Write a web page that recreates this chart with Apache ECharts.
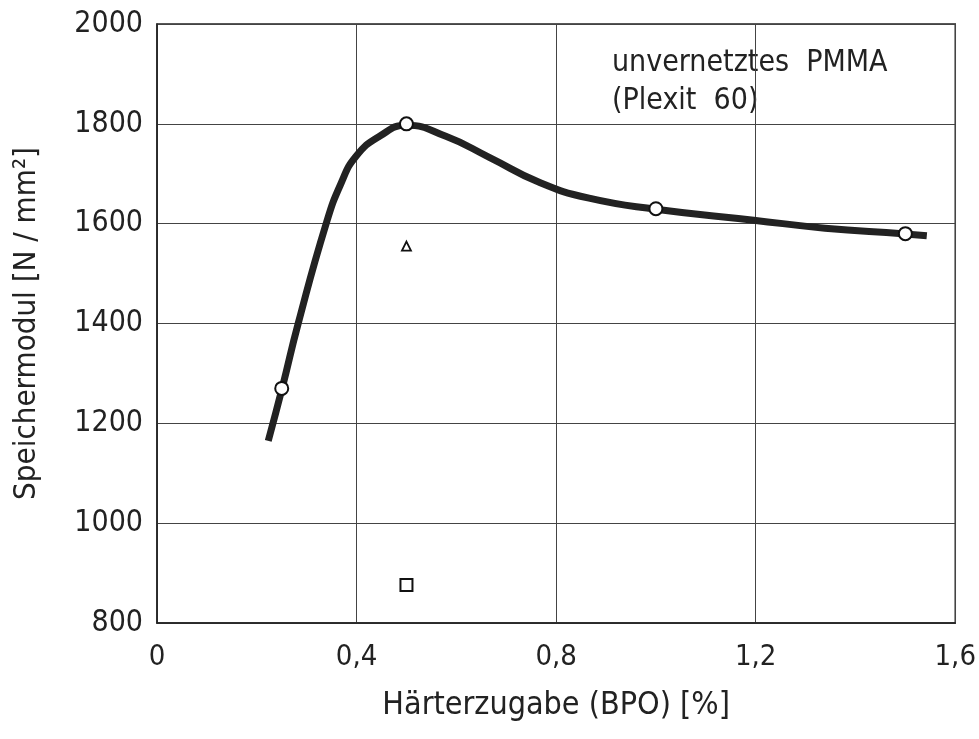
<!DOCTYPE html>
<html lang="de">
<head>
  <meta charset="UTF-8">
  <title>Speichermodul</title>
  <style>
    html, body { margin: 0; height: 100%; width: 100%; background: #fff; }
  </style>
</head>
<body>
  <div id="chart" style="width:979px;height:739px"></div>
  <script src="https://cdn.jsdelivr.net/npm/echarts@6/dist/echarts.min.js"></script>
  <script>
    const FONT = "'DejaVu Sans Condensed', 'DejaVu Sans', sans-serif"

    const xTicks = [0, 0.4, 0.8, 1.2, 1.6]
    const yTicks = [800, 1000, 1200, 1400, 1600, 1800, 2000]

    // measured points (unvernetztes PMMA)
    const circleX = [0.25, 0.5, 1.0, 1.5]
    const circleY = [1270, 1800, 1630, 1580]
    // other markers at 0.5 %
    const triangleXY = [0.5, 1555]
    const squareXY = [0.5, 876]

    // fitted curve
    const curveX = [0.223, 0.251, 0.283, 0.339, 0.369, 0.399, 0.446, 0.5, 0.579, 0.666,
      0.766, 0.866, 1.0, 1.196, 1.339, 1.494, 1.543]
    const curveY = [1165, 1271, 1400, 1600, 1681, 1735, 1775, 1797, 1775, 1733,
      1683, 1651, 1629, 1607, 1591, 1580, 1576]

    const pair = (xs, ys) => xs.map((x, i) => [x, ys[i]])

    const option = {
      animation: false,
      grid: {
        left: 157, right: 22, top: 24, bottom: 116,
        show: true, borderColor: '#222', borderWidth: 1.5
      },
      xAxis: {
        type: 'value', min: 0, max: 1.6, interval: 0.4,
        name: 'Härterzugabe (BPO) [%]',
        nameLocation: 'middle', nameGap: 67,
        nameTextStyle: { fontFamily: FONT, fontSize: 32, color: '#222' },
        axisLine: { lineStyle: { color: '#222', width: 1.5 } },
        axisTick: { show: false },
        splitLine: { lineStyle: { color: '#444', width: 1 } },
        axisLabel: {
          margin: 20, fontFamily: FONT, fontSize: 29, color: '#222',
          formatter: v => String(v).replace('.', ',')
        }
      },
      yAxis: {
        type: 'value', min: 800, max: 2000, interval: 200,
        name: 'Speichermodul [N / mm²]',
        nameLocation: 'middle', nameGap: 115,
        nameTextStyle: { fontFamily: FONT, fontSize: 31, color: '#222' },
        axisLine: { lineStyle: { color: '#222', width: 1.5 } },
        axisTick: { show: false },
        splitLine: { lineStyle: { color: '#444', width: 1 } },
        axisLabel: {
          margin: 14, fontFamily: FONT, fontSize: 30, color: '#222',
          formatter: v => String(v)
        }
      },
      graphic: [{
        type: 'text', left: 612, top: 44,
        style: {
          text: 'unvernetztes  PMMA\n(Plexit  60)',
          font: '30px ' + FONT, fill: '#222', lineHeight: 38
        }
      }],
      series: [{
        type: 'line', data: pair(curveX, curveY), smooth: 0.5,
        showSymbol: false, z: 2,
        lineStyle: { color: '#222', width: 7 }
      }, {
        type: 'scatter', data: pair(circleX, circleY), symbol: 'circle', symbolSize: 13, z: 3,
        itemStyle: { color: '#fff', borderColor: '#111', borderWidth: 2, opacity: 1 }
      }, {
        type: 'scatter', data: [triangleXY], symbol: 'triangle', symbolSize: 9, z: 3,
        itemStyle: { color: '#fff', borderColor: '#111', borderWidth: 1.8, opacity: 1 }
      }, {
        type: 'scatter', data: [squareXY], symbol: 'rect', symbolSize: 12, z: 3,
        itemStyle: { color: '#fff', borderColor: '#111', borderWidth: 2, opacity: 1 }
      }]
    }

    const myChart = echarts.init(document.getElementById('chart'))
    myChart.setOption(option)
  </script>
</body>
</html>
